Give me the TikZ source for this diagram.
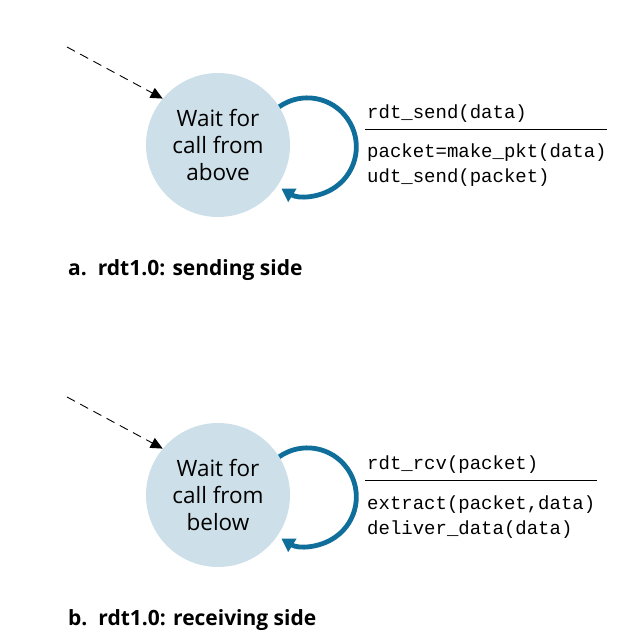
\documentclass[tikz,border=0pt]{standalone}
\usepackage{fontspec}
\setsansfont{Open Sans}
\setmonofont{Liberation Mono}
\usetikzlibrary{arrows.meta}

\definecolor{statefill}{RGB}{205,223,232}
\definecolor{loopblue}{RGB}{16,110,155}

\tikzset{
state/.style={circle,fill=statefill,minimum size=144pt,inner sep=0pt,
  align=center,font=\sffamily\fontsize{22.5}{27}\selectfont},
selfloop/.style={draw=loopblue,line width=4.8pt,-{Triangle[length=13pt,width=15pt]}},
initarrow/.style={draw=black,line width=0.9pt,dash pattern=on 9pt off 6pt,
  -{Triangle[length=12pt,width=11pt]}},
event/.style={anchor=base west,inner sep=0pt,font=\ttfamily\fontsize{19}{25}\selectfont},
action/.style={anchor=base west,inner sep=0pt,align=left,font=\ttfamily\fontsize{19}{25}\selectfont},
caption/.style={anchor=base west,inner sep=0pt,font=\sffamily\bfseries\fontsize{21}{24}\selectfont}}

\begin{document}
\begin{tikzpicture}[x=1pt,y=-1pt]
  \useasboundingbox (0,0) rectangle (626,644);

  % sending side
  \node[state] (send) at (218,145) {Wait for\\call from\\above};
  \coordinate (sendin) at (67,47);
  \draw[initarrow] (sendin) -- (send.140);
  \draw[selfloop] (send.32) arc[start angle=-125,end angle=122,radius=49];
  \node[event] (sendev) at (367,119) {rdt\_send(data)};
  \draw[line width=0.9pt] (365,129) -- (607,129);
  \node[action] (sendact) at (367,183) {packet=make\_pkt(data)\\udt\_send(packet)};
  \node[caption] (sendcap) at (68,275) {a.\ \ rdt1.0: sending side};

  % receiving side
  \node[state] (recv) at (218,495) {Wait for\\call from\\below};
  \coordinate (recvin) at (67,397);
  \draw[initarrow] (recvin) -- (recv.140);
  \draw[selfloop] (recv.32) arc[start angle=-125,end angle=122,radius=49];
  \node[event] (recvev) at (367,469) {rdt\_rcv(packet)};
  \draw[line width=0.9pt] (365,480) -- (597,480);
  \node[action] (recvact) at (367,534) {extract(packet,data)\\deliver\_data(data)};
  \node[caption] (recvcap) at (68,625) {b.\ \ rdt1.0: receiving side};
\end{tikzpicture}
\end{document}
